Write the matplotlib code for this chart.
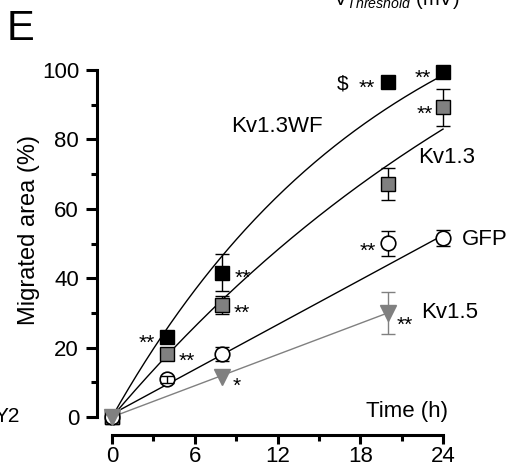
import numpy as np
import matplotlib
matplotlib.use('Agg')
import matplotlib.pyplot as plt
from matplotlib.ticker import MultipleLocator

plt.rcParams['font.family'] = ['Liberation Sans', 'DejaVu Sans']
plt.rcParams['mathtext.fontset'] = 'custom'
plt.rcParams['mathtext.rm'] = 'Liberation Sans'
plt.rcParams['mathtext.it'] = 'Liberation Sans:italic'

# Data (time in h, migrated area in %)
t_wf = [0, 4, 8, 20, 24]
y_wf = [0, 23.0, 41.6, 96.5, 99.4]
e_wf = [0, 0, 5.3, 0, 0]

t_k13 = [0, 4, 8, 20, 24]
y_k13 = [0, 18.2, 32.3, 67.1, 89.3]
e_k13 = [0, 0, 2.6, 4.6, 5.3]

t_gfp = [0, 4, 8, 20, 24]
y_gfp = [0, 10.9, 18.2, 50.1, 51.6]
e_gfp = [0, 1.0, 2.0, 3.6, 2.2]

t_k15 = [0, 8, 20]
y_k15 = [0, 11.5, 30.0]
e_k15 = [0, 0, 6.1]

# fitted curves as drawn in the figure
# Kv1.3WF, Kv1.3: y = A * (1 - exp(-k t));  GFP, Kv1.5: y = b + m t
fit_wf = (141.0, 0.050)
fit_k13 = (174.0, 0.027)
fit_gfp = (0.8, 2.15)
fit_k15 = (0.0, 1.50)

GRAY = '#808080'

fig = plt.figure(figsize=(5.11, 4.69), dpi=100)
ax = fig.add_axes([0.2057, 0.0961, 0.6748, 0.7694])
ax.set_xlim(-0.5, 24.5)
ax.set_ylim(-2, 102)

tt = np.linspace(0, 24, 200)
tt5 = np.linspace(0, 20, 100)
ax.plot(tt, fit_wf[0] * (1 - np.exp(-fit_wf[1] * tt)), color='k', lw=1, zorder=1)
ax.plot(tt, fit_k13[0] * (1 - np.exp(-fit_k13[1] * tt)), color='k', lw=1, zorder=1)
ax.plot(tt, fit_gfp[0] + fit_gfp[1] * tt, color='k', lw=1, zorder=1)
ax.plot(tt5, fit_k15[0] + fit_k15[1] * tt5, color=GRAY, lw=1, zorder=1)


def ebars(t, y, e, color, z=2, only=None):
    idx = [i for i in range(len(t)) if e[i] > 0 and (only is None or i in only)]
    ax.errorbar([t[i] for i in idx], [y[i] for i in idx], yerr=[e[i] for i in idx],
                fmt='none', ecolor=color, elinewidth=1, capsize=5, capthick=1,
                zorder=z, clip_on=False)


ebars(t_wf, y_wf, e_wf, 'k')
ebars(t_k13, y_k13, e_k13, 'k')
ebars(t_gfp, y_gfp, e_gfp, 'k', only=[2, 3, 4])
ebars(t_k15, y_k15, e_k15, GRAY)

ax.plot(t_wf, y_wf, 's', ms=10, mfc='k', mec='k', mew=1, zorder=3, clip_on=False)
ax.plot(t_k13, y_k13, 's', ms=10, mfc=GRAY, mec='k', mew=1, zorder=3, clip_on=False)
ax.plot(t_gfp, y_gfp, 'o', ms=10.5, mfc='white', mec='k', mew=1.2, zorder=3, clip_on=False)
ax.plot(t_k15, y_k15, 'v', ms=12, mfc=GRAY, mec=GRAY, mew=1, zorder=3.5, clip_on=False)
ebars(t_gfp, y_gfp, e_gfp, 'k', z=4, only=[1])

# significance marks: offsets in pixels from the marker centre
FS_STAR = 15


def star(t, y, s, dx, dy, rel=0.58):
    ax.annotate(s, xy=(t, y), xytext=(dx * 0.72, -dy * 0.72 - rel * FS_STAR),
                textcoords='offset points', ha='center', va='baseline',
                fontsize=FS_STAR, annotation_clip=False)


star(t_wf[1], y_wf[1], '**', -20, 0)
star(t_k13[1], y_k13[1], '**', 20, 1)
star(t_wf[2], y_wf[2], '**', 20, -1)
star(t_k13[2], y_k13[2], '**', 19, 2)
star(t_k15[1], y_k15[1], '*', 14, 3)
star(t_wf[3], y_wf[3], '**', -21, 0)
star(t_wf[3], y_wf[3], r'\$', -45, 0, rel=0.35)
star(t_wf[4], y_wf[4], '**', -20, 0)
star(t_k13[4], y_k13[4], '**', -18, 1)
star(t_gfp[3], y_gfp[3], '**', -20, 2)
star(t_k15[2], y_k15[2], '**', 17, 6)

FS = 16
ax.text(8.6, 82.1, 'Kv1.3WF', fontsize=FS, ha='left', va='baseline')
ax.text(22.2, 73.2, 'Kv1.3', fontsize=FS, ha='left', va='baseline', clip_on=False)
ax.text(25.4, 49.6, 'GFP', fontsize=FS, ha='left', va='baseline', clip_on=False)
ax.text(22.4, 28.5, 'Kv1.5', fontsize=FS, ha='left', va='baseline', clip_on=False)
ax.text(18.4, 0.0, 'Time (h)', fontsize=FS, ha='left', va='baseline')

ax.set_ylabel('Migrated area (%)', fontsize=17)
ax.yaxis.set_label_coords(-0.189, 0.537)

for side in ['top', 'right']:
    ax.spines[side].set_visible(False)
ax.spines['left'].set_position(('outward', 5.8))
ax.spines['bottom'].set_position(('outward', 7.9))
ax.spines['left'].set_bounds(0, 100)
ax.spines['bottom'].set_bounds(0, 24)
for side in ['left', 'bottom']:
    ax.spines[side].set_linewidth(2.2)

ax.set_yticks([0, 20, 40, 60, 80, 100])
ax.yaxis.set_minor_locator(MultipleLocator(10))
ax.set_xticks([0, 6, 12, 18, 24])
ax.xaxis.set_minor_locator(MultipleLocator(3))
ax.tick_params(which='major', width=2.2, labelsize=FS, direction='out')
ax.tick_params(which='minor', width=2.2, direction='out')
ax.tick_params(axis='y', which='major', length=8, pad=5)
ax.tick_params(axis='y', which='minor', length=4.5)
ax.tick_params(axis='x', which='major', length=6.5, pad=1.5)
ax.tick_params(axis='x', which='minor', length=4)

# panel letter and cut-off neighbours
fig.text(7 / 511, 1 - 40 / 469, 'E', fontsize=30, ha='left', va='baseline')
fig.text(333 / 511, 1 - 5 / 469, r'V$_{Threshold}$ (mV)', fontsize=14.5, ha='left', va='baseline')
fig.text(20 / 511, 1 - 422 / 469, 'Y2', fontsize=15, ha='right', va='baseline')

fig.savefig('out.png', dpi=100)
